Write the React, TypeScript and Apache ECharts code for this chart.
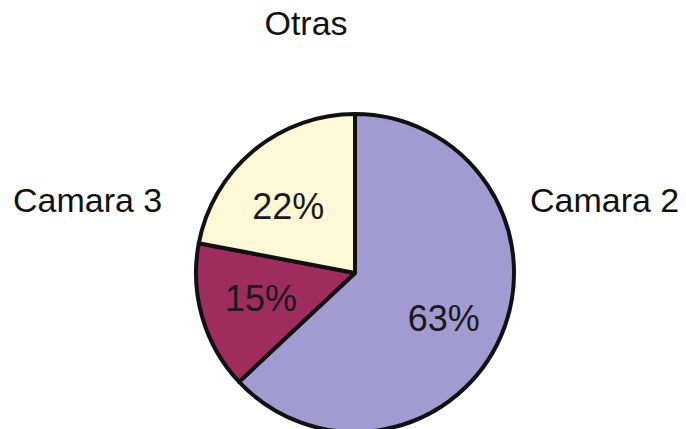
import React, { useEffect, useRef } from "react";
import * as echarts from "echarts";

const categories = ["Camara 2", "Camara 3", "Otras"];
const values = [63, 15, 22];
const colors = ["#A29BD1", "#9E2C5F", "#FFF8D6"];
const outerLabelNames = ["Otras", "Camara 3", "Camara 2"];
const labelOffsets = [
  [-3, 6],
  [2, -2],
  [-3, 11],
];

const FONT = "'Liberation Sans', Arial, sans-serif";

export default function App() {
  const ref = useRef<HTMLDivElement>(null);
  useEffect(() => {
    document.body.style.margin = "0";
    if (!ref.current) return;
    const chart = echarts.init(ref.current, undefined, { renderer: "svg" });
    const data = categories.map((c, i) => ({
      name: c,
      value: values[i],
      itemStyle: { color: colors[i] },
    }));
    chart.setOption({
      animation: false,
      backgroundColor: "#ffffff",
      series: [
        {
          type: "pie",
          center: [355, 273],
          radius: 159,
          startAngle: 90,
          clockwise: true,
          silent: true,
          label: { show: false },
          labelLine: { show: false },
          itemStyle: { borderColor: "#111111", borderWidth: 4, borderJoin: "round" },
          data,
        },
        {
          type: "pie",
          center: [355, 273],
          radius: 194,
          startAngle: 90,
          clockwise: true,
          silent: true,
          itemStyle: { color: "rgba(0,0,0,0)", borderWidth: 0 },
          label: {
            show: true,
            position: "inside",
            formatter: "{c}%",
            fontSize: 36,
            fontFamily: FONT,
            color: "#1a1a1a",
          },
          labelLine: { show: false },
          data: categories.map((c, i) => ({
            name: c,
            value: values[i],
            label: { offset: labelOffsets[i] },
          })),
        },
      ],
      graphic: [
        {
          type: "text",
          x: 306,
          y: 23,
          style: {
            text: outerLabelNames[0],
            fontSize: 34,
            fontFamily: FONT,
            fill: "#111111",
            textAlign: "center",
            textVerticalAlign: "middle",
          },
        },
        {
          type: "text",
          x: 13,
          y: 200,
          style: {
            text: outerLabelNames[1],
            fontSize: 34,
            fontFamily: FONT,
            fill: "#111111",
            textAlign: "left",
            textVerticalAlign: "middle",
          },
        },
        {
          type: "text",
          x: 530,
          y: 200,
          style: {
            text: outerLabelNames[2],
            fontSize: 34,
            fontFamily: FONT,
            fill: "#111111",
            textAlign: "left",
            textVerticalAlign: "middle",
          },
        },
      ],
    });
    return () => chart.dispose();
  }, []);
  return <div ref={ref} style={{ width: 686, height: 429 }} />;
}
